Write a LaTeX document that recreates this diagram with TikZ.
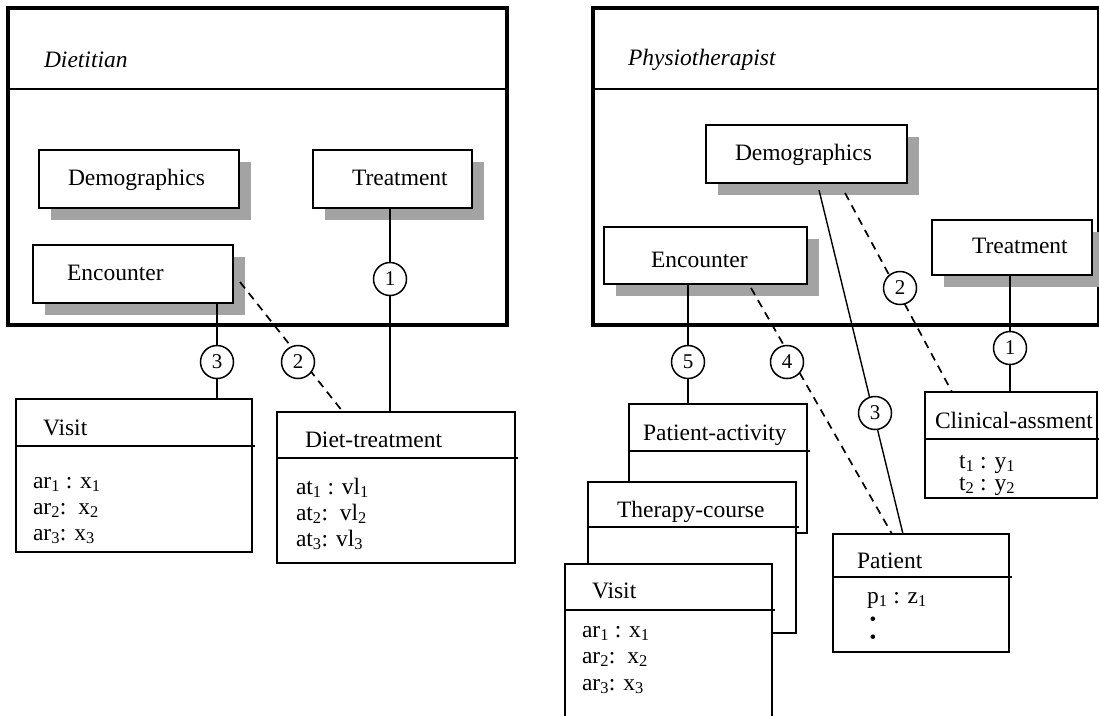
\documentclass[tikz,border=0pt]{standalone}
\usepackage{fontspec}
\setmainfont{Liberation Serif}
\usetikzlibrary{shadows}
\pgfdeclarelayer{front}
\pgfsetlayers{main,front}
\begin{document}
\begin{tikzpicture}[x=1pt,y=-1pt,
  every node/.style={outer sep=0pt},
  panel/.style={draw, line width=4pt, anchor=north west, inner sep=0pt},
  headrule/.style={line width=2.5pt},
  entity/.style={draw, fill=white, line width=2pt, anchor=north west, inner sep=0pt,
    drop shadow={shadow xshift=12pt, shadow yshift=-12pt, fill=black!36, opacity=1}},
  classbox/.style={draw, fill=white, line width=1.8pt, anchor=north west, inner sep=0pt},
  boxrule/.style={line width=1.8pt},
  txt/.style={anchor=base west, inner sep=0pt, font=\fontsize{23.5}{27}\selectfont},
  title/.style={txt, font=\fontsize{23.5}{27}\selectfont\itshape},
  bullet/.style={inner sep=0pt, font=\fontsize{19}{19}\selectfont},
  num/.style={circle, draw, fill=white, line width=1.5pt, minimum size=33pt, inner sep=0pt,
    font=\fontsize{21}{21}\selectfont},
  link/.style={line width=1.4pt},
  dlink/.style={line width=1.7pt, dash pattern=on 8pt off 6pt},
]
\useasboundingbox (0,0) rectangle (1099,715);

% ---------- Dietitian view ----------
\node[panel, minimum width=499pt, minimum height=317pt] (lpanel) at (8,8) {};
\draw[headrule] ([yshift=-81pt]lpanel.north west) -- ([yshift=-81pt]lpanel.north east);
\node[title] (ltitle) at (44,67) {Dietitian};

\node[entity, minimum width=200pt, minimum height=58pt] (ldemo) at (39,150) {};
\node[txt] (ldemo-t) at (68,185) {Demographics};
\node[entity, minimum width=159pt, minimum height=58pt] (ltreat) at (313,150) {};
\node[txt] (ltreat-t) at (352,185) {Treatment};
\node[entity, minimum width=200pt, minimum height=58pt] (lenc) at (33,245) {};
\node[txt] (lenc-t) at (67,280) {Encounter};

\node[classbox, minimum width=236pt, minimum height=153pt] (lvisit) at (16,399) {};
\draw[boxrule] ([yshift=-47pt]lvisit.north west) -- ([xshift=3pt,yshift=-47pt]lvisit.north east);
\node[txt] (lvisit-t) at (43,435) {Visit};
\node[txt] (lvisit-a1) at (33,488) {ar\textsubscript{1} : x\textsubscript{1}};
\node[txt] (lvisit-a2) at (33,514) {ar\textsubscript{2}:\ \ x\textsubscript{2}};
\node[txt] (lvisit-a3) at (33,540) {ar\textsubscript{3}: x\textsubscript{3}};

\node[classbox, minimum width=238pt, minimum height=151pt] (ldiet) at (277,412) {};
\draw[boxrule] ([yshift=-46pt]ldiet.north west) -- ([xshift=3pt,yshift=-46pt]ldiet.north east);
\node[txt] (ldiet-t) at (305,447) {Diet-treatment};
\node[txt] (ldiet-a1) at (296,494) {at\textsubscript{1} : vl\textsubscript{1}};
\node[txt] (ldiet-a2) at (296,520) {at\textsubscript{2}:\ \ vl\textsubscript{2}};
\node[txt] (ldiet-a3) at (296,546) {at\textsubscript{3}: vl\textsubscript{3}};

% ---------- Physiotherapist view ----------
\node[panel, minimum width=506pt, minimum height=317pt] (rpanel) at (593,8) {};
\draw[headrule] ([yshift=-81pt]rpanel.north west) -- ([yshift=-81pt]rpanel.north east);
\node[title] (rtitle) at (628,65) {Physiotherapist};

\node[entity, minimum width=201pt, minimum height=58pt] (rdemo) at (706,125) {};
\node[txt] (rdemo-t) at (735,160) {Demographics};
\node[entity, minimum width=203pt, minimum height=57pt] (renc) at (604,227) {};
\node[txt] (renc-t) at (651,267) {Encounter};
\node[entity, minimum width=160pt, minimum height=55pt] (rtreat) at (932,220) {};
\node[txt] (rtreat-t) at (972,253) {Treatment};

\node[classbox, minimum width=178pt, minimum height=129pt] (pact) at (629,404) {};
\draw[boxrule] ([yshift=-47pt]pact.north west) -- ([xshift=3pt,yshift=-47pt]pact.north east);
\node[txt] (pact-t) at (643,440) {Patient-activity};

\node[classbox, minimum width=208pt, minimum height=151pt] (tcourse) at (588,482) {};
\draw[boxrule] ([yshift=-45pt]tcourse.north west) -- ([xshift=3pt,yshift=-45pt]tcourse.north east);
\node[txt] (tcourse-t) at (617,517) {Therapy-course};

\node[classbox, minimum width=207pt, minimum height=170pt] (rvisit) at (565,564) {};
\draw[boxrule] ([yshift=-46pt]rvisit.north west) -- ([xshift=3pt,yshift=-46pt]rvisit.north east);
\node[txt] (rvisit-t) at (592,598) {Visit};
\node[txt] (rvisit-a1) at (582,637) {ar\textsubscript{1} : x\textsubscript{1}};
\node[txt] (rvisit-a2) at (582,663) {ar\textsubscript{2}:\ \ x\textsubscript{2}};
\node[txt] (rvisit-a3) at (582,690) {ar\textsubscript{3}: x\textsubscript{3}};

\node[classbox, minimum width=176pt, minimum height=118pt] (patient) at (833,534) {};
\draw[boxrule] ([yshift=-43pt]patient.north west) -- ([xshift=3pt,yshift=-43pt]patient.north east);
\node[txt] (patient-t) at (857,568) {Patient};
\node[txt] (patient-a1) at (867,603) {p\textsubscript{1} : z\textsubscript{1}};
\node[bullet] (patient-d1) at (873,621) {•};
\node[bullet] (patient-d2) at (873,639) {•};

\node[classbox, minimum width=172pt, minimum height=106pt] (clinical) at (925,392) {};
\draw[boxrule] ([yshift=-47pt]clinical.north west) -- ([xshift=3pt,yshift=-47pt]clinical.north east);
\node[txt] (clinical-t) at (935,428) {Clinical-assment};
\node[txt] (clinical-a1) at (959,468) {t\textsubscript{1} : y\textsubscript{1}};
\node[txt] (clinical-a2) at (959,490) {t\textsubscript{2} : y\textsubscript{2}};

% ---------- numbered mapping markers ----------
\begin{pgfonlayer}{front}
\node[num] (c1l) at (390,279) {1};
\node[num] (c2l) at (298,362) {2};
\node[num] (c3l) at (217,362) {3};
\node[num] (c1r) at (1010,348) {1};
\node[num] (c2r) at (900,288) {2};
\node[num] (c3r) at (875,413) {3};
\node[num] (c4r) at (787,362) {4};
\node[num] (c5r) at (688,362) {5};
\end{pgfonlayer}

% ---------- mappings ----------
\draw[link] (ltreat.south -| c1l) -- (c1l |- ldiet.north);
\draw[link] (lenc.south -| c3l) -- (c3l |- lvisit.north);
\draw[dlink] ([xshift=7pt,yshift=-8pt]lenc.east) -- ([xshift=-53pt]ldiet.north);

\draw[link] (renc.south -| c5r) -- (c5r |- pact.north);
\draw[dlink] ([xshift=45.5pt,yshift=-4pt]renc.south) -- ([xshift=-29pt]patient.north);
\draw[link] ([xshift=12.5pt,yshift=-7pt]rdemo.south) -- ([xshift=-18pt]patient.north);
\draw[dlink] ([xshift=38.5pt,yshift=-10pt]rdemo.south) -- ([xshift=-59pt]clinical.north);
\draw[link] (rtreat.south -| c1r) -- (c1r |- clinical.north);
\end{tikzpicture}
\end{document}
